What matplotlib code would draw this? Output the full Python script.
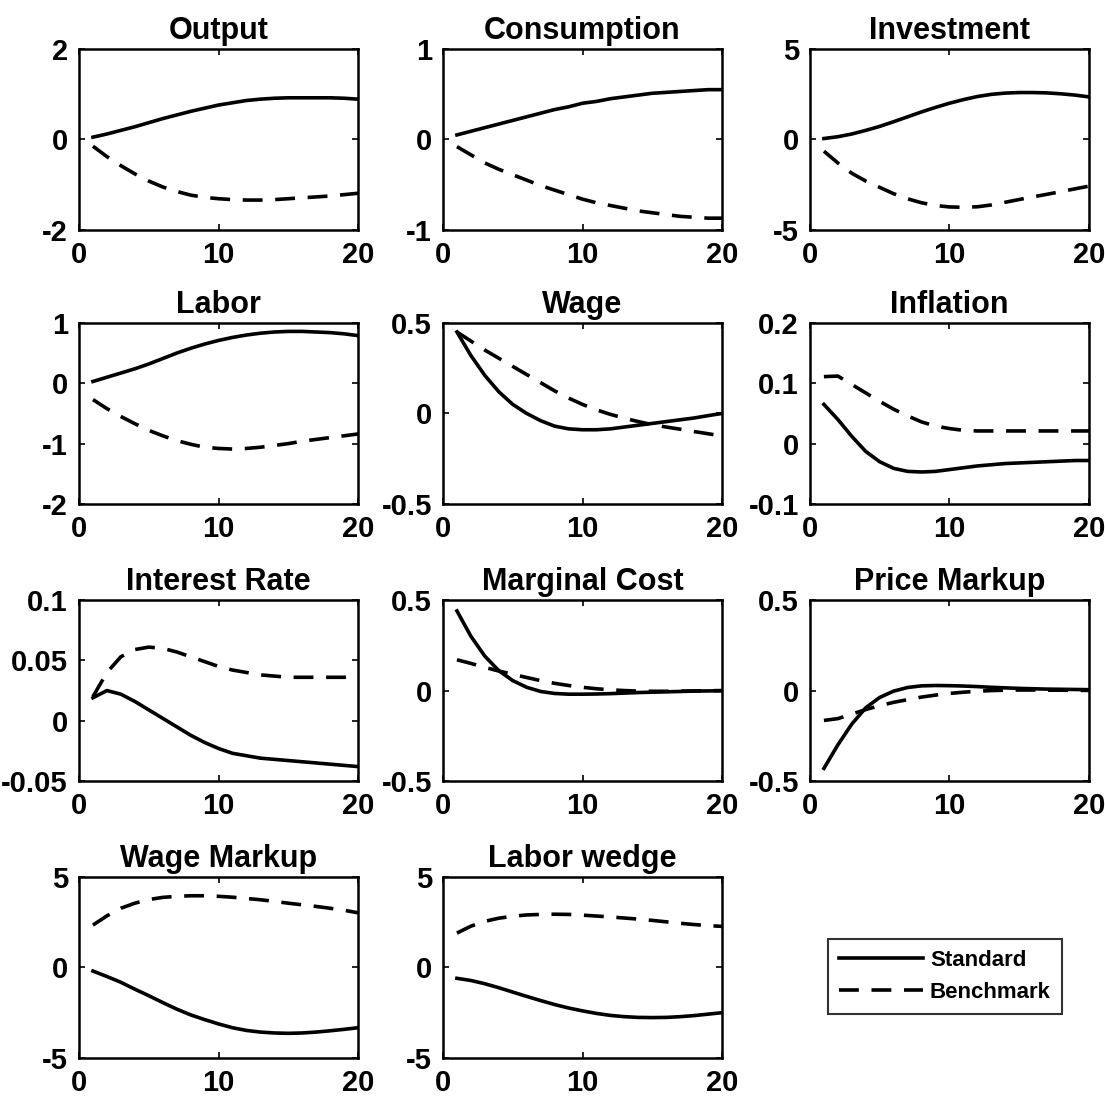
import numpy as np
import matplotlib
matplotlib.use("Agg")
import matplotlib.pyplot as plt

plt.rcParams['font.family'] = ['Liberation Sans', 'DejaVu Sans']
plt.rcParams['font.weight'] = 'bold'
plt.rcParams['axes.unicode_minus'] = False

periods = np.arange(1, 21)

titles = ['Output', 'Consumption', 'Investment', 'Labor', 'Wage', 'Inflation',
          'Interest Rate', 'Marginal Cost', 'Price Markup', 'Wage Markup', 'Labor wedge']

standard = [
    [0.05, 0.12, 0.2, 0.28, 0.37, 0.46, 0.54, 0.62, 0.69, 0.76,
     0.81, 0.86, 0.89, 0.91, 0.92, 0.92, 0.92, 0.92, 0.91, 0.89],
    [0.05, 0.09, 0.13, 0.17, 0.21, 0.25, 0.29, 0.33, 0.36, 0.40,
     0.42, 0.45, 0.47, 0.49, 0.51, 0.52, 0.53, 0.54, 0.55, 0.55],
    [0.05, 0.15, 0.3, 0.5, 0.72, 0.98, 1.25, 1.52, 1.77, 2.0,
     2.2, 2.37, 2.49, 2.56, 2.59, 2.59, 2.57, 2.52, 2.45, 2.35],
    [0.03, 0.1, 0.17, 0.24, 0.32, 0.41, 0.5, 0.58, 0.65, 0.71,
     0.76, 0.8, 0.83, 0.85, 0.86, 0.86, 0.85, 0.84, 0.82, 0.79],
    [0.45, 0.32, 0.21, 0.12, 0.05, 0.0, -0.04, -0.07, -0.085, -0.09,
     -0.09, -0.085, -0.075, -0.065, -0.055, -0.045, -0.035, -0.025, -0.012, 0.0],
    [0.065, 0.04, 0.012, -0.013, -0.03, -0.041, -0.046, -0.047, -0.046, -0.043,
     -0.04, -0.037, -0.035, -0.033, -0.032, -0.031, -0.03, -0.029, -0.028, -0.028],
    [0.019, 0.025, 0.022, 0.016, 0.009, 0.002, -0.005, -0.012, -0.018, -0.023,
     -0.027, -0.029, -0.031, -0.032, -0.033, -0.034, -0.035, -0.036, -0.037, -0.038],
    [0.44, 0.3, 0.19, 0.11, 0.055, 0.018, -0.005, -0.016, -0.02, -0.02,
     -0.019, -0.017, -0.014, -0.011, -0.009, -0.007, -0.005, -0.003, -0.002, -0.001],
    [-0.43, -0.3, -0.185, -0.095, -0.038, -0.003, 0.017, 0.026, 0.028, 0.027,
     0.025, 0.022, 0.018, 0.015, 0.012, 0.01, 0.008, 0.007, 0.006, 0.005],
    [-0.2, -0.5, -0.82, -1.2, -1.56, -1.94, -2.3, -2.62, -2.88, -3.12,
     -3.33, -3.48, -3.57, -3.62, -3.64, -3.62, -3.57, -3.5, -3.42, -3.33],
    [-0.6, -0.72, -0.9, -1.12, -1.36, -1.6, -1.83, -2.05, -2.24, -2.4,
     -2.54, -2.65, -2.72, -2.76, -2.77, -2.76, -2.72, -2.66, -2.58, -2.5],
]

benchmark = [
    [-0.15, -0.38, -0.58, -0.76, -0.92, -1.05, -1.15, -1.23, -1.28, -1.31,
     -1.33, -1.34, -1.34, -1.33, -1.31, -1.29, -1.27, -1.25, -1.22, -1.19],
    [-0.08, -0.17, -0.26, -0.33, -0.39, -0.45, -0.51, -0.56, -0.61, -0.66,
     -0.70, -0.73, -0.76, -0.79, -0.81, -0.83, -0.85, -0.86, -0.87, -0.87],
    [-0.65, -1.3, -1.87, -2.3, -2.65, -3.0, -3.28, -3.5, -3.65, -3.73,
     -3.75, -3.72, -3.62, -3.47, -3.32, -3.17, -3.03, -2.88, -2.73, -2.58],
    [-0.27, -0.42, -0.55, -0.67, -0.78, -0.87, -0.95, -1.01, -1.06, -1.08,
     -1.09, -1.08, -1.06, -1.03, -1.0, -0.96, -0.93, -0.9, -0.87, -0.84],
    [0.45, 0.40, 0.35, 0.305, 0.26, 0.215, 0.17, 0.125, 0.085, 0.05,
     0.02, -0.005, -0.026, -0.045, -0.062, -0.075, -0.087, -0.1, -0.112, -0.125],
    [0.111, 0.112, 0.098, 0.084, 0.07, 0.057, 0.046, 0.036, 0.029, 0.025,
     0.022, 0.021, 0.021, 0.021, 0.021, 0.021, 0.021, 0.021, 0.021, 0.021],
    [0.02, 0.04, 0.053, 0.059, 0.061, 0.06, 0.057, 0.053, 0.049, 0.045,
     0.042, 0.04, 0.038, 0.037, 0.036, 0.036, 0.036, 0.036, 0.036, 0.037],
    [0.17, 0.15, 0.128, 0.108, 0.09, 0.072, 0.055, 0.04, 0.028, 0.018,
     0.01, 0.004, 0.0, -0.003, -0.004, -0.004, -0.003, -0.002, -0.001, 0.0],
    [-0.165, -0.155, -0.13, -0.105, -0.083, -0.065, -0.05, -0.036, -0.025, -0.016,
     -0.009, -0.004, 0.0, 0.002, 0.003, 0.003, 0.002, 0.002, 0.001, 0.001],
    [2.34, 2.85, 3.27, 3.55, 3.75, 3.87, 3.93, 3.96, 3.96, 3.93,
     3.88, 3.81, 3.74, 3.65, 3.55, 3.46, 3.37, 3.27, 3.16, 3.02],
    [1.9, 2.28, 2.55, 2.72, 2.83, 2.9, 2.93, 2.94, 2.93, 2.89,
     2.84, 2.79, 2.73, 2.67, 2.6, 2.52, 2.44, 2.37, 2.31, 2.27],
]

yticks = [
    [-2, 0, 2], [-1, 0, 1], [-5, 0, 5],
    [-2, -1, 0, 1], [-0.5, 0, 0.5], [-0.1, 0, 0.1, 0.2],
    [-0.05, 0, 0.05, 0.1], [-0.5, 0, 0.5], [-0.5, 0, 0.5],
    [-5, 0, 5], [-5, 0, 5],
]
ytick_labels = [
    ['-2', '0', '2'], ['-1', '0', '1'], ['-5', '0', '5'],
    ['-2', '-1', '0', '1'], ['-0.5', '0', '0.5'], ['-0.1', '0', '0.1', '0.2'],
    ['-0.05', '0', '0.05', '0.1'], ['-0.5', '0', '0.5'], ['-0.5', '0', '0.5'],
    ['-5', '0', '5'], ['-5', '0', '5'],
]

fig = plt.figure(figsize=(11.05, 10.97), dpi=100)

lefts = [0.0715, 0.4009, 0.733]
bottoms = [0.7904, 0.5406, 0.288, 0.0356]
w, h = 0.2525, 0.165

for i, name in enumerate(titles):
    r, c = divmod(i, 3)
    ax = fig.add_axes([lefts[c], bottoms[r], w, h])
    ax.plot(periods, standard[i], color='black', lw=2.6, label='Standard')
    ax.plot(periods, benchmark[i], color='black', lw=2.6, dashes=(5.5, 3.5),
            label='Benchmark')
    ax.set_xlim(0, 20)
    ax.set_ylim(yticks[i][0], yticks[i][-1])
    ax.set_xticks([0, 10, 20])
    ax.set_xticklabels(['0', '10', '20'])
    ax.set_yticks(yticks[i])
    ax.set_yticklabels(ytick_labels[i])
    ax.tick_params(direction='in', length=4, width=1.2, top=True, right=True,
                   labelsize=21, pad=8)
    for s in ax.spines.values():
        s.set_linewidth(1.8)
    ax.set_title(name, fontsize=22, fontweight='bold', pad=7)

handles, labels = ax.get_legend_handles_labels()
leg = fig.legend(handles, labels, loc='center', bbox_to_anchor=(0.855, 0.110),
                 fontsize=16, frameon=True, fancybox=False, edgecolor='black',
                 handlelength=3.8, handletextpad=0.3, borderpad=0.5,
                 labelspacing=0.5)
leg.get_frame().set_linewidth(1.5)
for t in leg.get_texts():
    t.set_fontweight('bold')

fig.savefig('out.png', dpi=100)
